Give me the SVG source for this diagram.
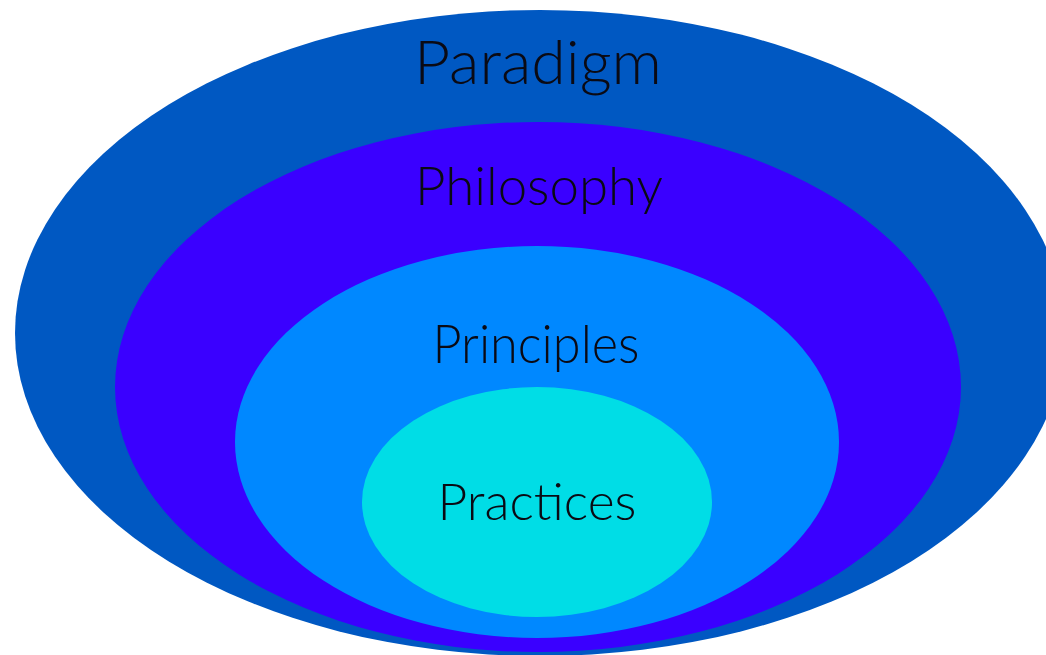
<svg xmlns="http://www.w3.org/2000/svg" width="1046" height="655" viewBox="0 0 1046 655">
<style>
  .lbl { font-family: Lato, "Open Sans", "Liberation Sans", sans-serif; fill: #0a0a14; text-anchor: middle; font-weight: 300; }
</style>
<rect width="1046" height="655" fill="#ffffff"/>
<g id="paradigm">
  <ellipse cx="540" cy="333" rx="525" ry="323" fill="#0058C2"/>
  <text class="lbl" x="538" y="84" font-size="62" textLength="248" lengthAdjust="spacingAndGlyphs">Paradigm</text>
</g>
<g id="philosophy">
  <ellipse cx="538" cy="387" rx="423" ry="265" fill="#3A00FF"/>
  <text class="lbl" x="539" y="205" font-size="53" textLength="248" lengthAdjust="spacingAndGlyphs">Philosophy</text>
</g>
<g id="principles">
  <ellipse cx="537" cy="442" rx="302" ry="196" fill="#0088FF"/>
  <text class="lbl" x="536" y="363" font-size="53" textLength="207" lengthAdjust="spacingAndGlyphs">Principles</text>
</g>
<g id="practices">
  <ellipse cx="537" cy="502" rx="175" ry="115" fill="#00DDE6"/>
  <text class="lbl" x="537" y="520" font-size="52" textLength="199" lengthAdjust="spacingAndGlyphs">Practices</text>
</g>
<g id="connectors"></g>
</svg>
